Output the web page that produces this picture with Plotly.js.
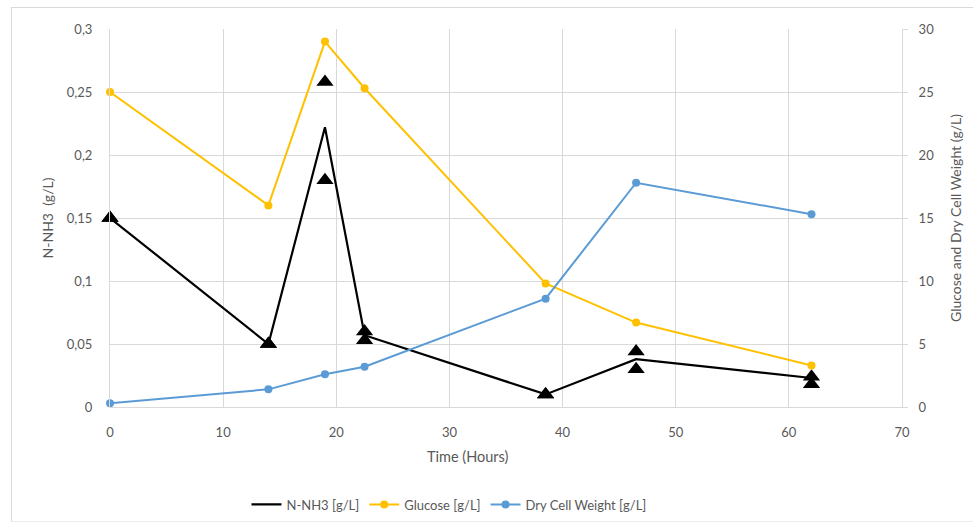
<!DOCTYPE html>
<html>
<head>
<meta charset="utf-8">
<script src="https://cdn.plot.ly/plotly-3.0.1.min.js"></script>
<style>
  html, body { margin: 0; padding: 0; background: #ffffff; }
  #wrap { position: relative; width: 973px; height: 532px; }
  #chart { width: 973px; height: 532px; }
  #frame { position: absolute; left: 11px; top: 7px; width: 962px; height: 513px;
           border-left: 1px solid #d9d9d9; border-top: 1px solid #d9d9d9;
           border-bottom: 1px solid #ececec; pointer-events: none; }
</style>
</head>
<body>
<div id="wrap">
  <div id="chart"></div>
  <div id="frame"></div>
</div>
<script>
// Sampling times (hours)
const timeHours = [0, 14, 19, 22.5, 38.5, 46.5, 62];

// Ammonium nitrogen (g/L): mean line and the two replicate measurements
const nh3Mean = [0.15, 0.05, 0.222, 0.057, 0.01, 0.038, 0.023];
const nh3RepA = [0.15, 0.05, 0.258, 0.06, 0.01, 0.044, 0.024];
const nh3RepB = [0.15, 0.05, 0.18, 0.053, 0.01, 0.03, 0.018];

// Glucose and dry cell weight (g/L), right axis
const glucose = [25, 16, 29, 25.3, 9.8, 6.7, 3.3];
const dryCellWeight = [0.3, 1.4, 2.6, 3.2, 8.6, 17.8, 15.3];

const leftTicks = [0, 0.05, 0.1, 0.15, 0.2, 0.25, 0.3];
const rightTicks = [0, 5, 10, 15, 20, 25, 30];
const timeTicks = [0, 10, 20, 30, 40, 50, 60, 70];

const grey = '#595959';
const gridCol = '#d9d9d9';
const fontFam = 'Lato, "Open Sans", sans-serif';

const traces = [
  {
    x: timeHours, y: nh3Mean, name: 'N-NH3 [g/L]', type: 'scatter', mode: 'lines',
    line: { color: '#000000', width: 2.2 }, yaxis: 'y', cliponaxis: false
  },
  {
    x: timeHours, y: glucose, name: 'Glucose [g/L]', type: 'scatter', mode: 'lines+markers',
    line: { color: '#FFC000', width: 2 }, marker: { color: '#FFC000', size: 8 },
    yaxis: 'y2', cliponaxis: false
  },
  {
    x: timeHours, y: dryCellWeight, name: 'Dry Cell Weight [g/L]', type: 'scatter', mode: 'lines+markers',
    line: { color: '#5B9BD5', width: 2 }, marker: { color: '#5B9BD5', size: 8 },
    yaxis: 'y2', cliponaxis: false
  },
  {
    x: timeHours, y: nh3RepA, name: 'N-NH3 replicate A', type: 'scatter', mode: 'markers',
    marker: { symbol: 'triangle-up', color: '#000000', size: 15 },
    yaxis: 'y', showlegend: false, cliponaxis: false
  },
  {
    x: timeHours, y: nh3RepB, name: 'N-NH3 replicate B', type: 'scatter', mode: 'markers',
    marker: { symbol: 'triangle-up', color: '#000000', size: 15 },
    yaxis: 'y', showlegend: false, cliponaxis: false
  }
];

const layout = {
  width: 973, height: 532,
  margin: { l: 110, r: 71, t: 29, b: 123, pad: 0 },
  paper_bgcolor: '#ffffff', plot_bgcolor: '#ffffff',
  separators: ', ',
  font: { family: fontFam, color: grey, size: 13 },
  showlegend: true,
  legend: {
    orientation: 'h', x: 0.428, xanchor: 'center', y: -0.258, yanchor: 'middle',
    font: { family: fontFam, size: 13, color: grey }, traceorder: 'normal',
    itemwidth: 30
  },
  xaxis: {
    range: [0, 70], tickvals: timeTicks, ticktext: timeTicks.map(String),
    showgrid: true, gridcolor: gridCol, gridwidth: 1,
    showline: true, linecolor: gridCol, linewidth: 1, zeroline: false,
    ticks: '', ticklabelstandoff: 13, tickfont: { size: 13, color: grey }, fixedrange: true
  },
  yaxis: {
    range: [0, 0.3], tickvals: leftTicks,
    showgrid: true, gridcolor: gridCol, gridwidth: 1,
    showline: true, linecolor: gridCol, linewidth: 1, zeroline: false,
    ticks: '', ticklabelstandoff: 14, tickfont: { size: 13, color: grey },
    title: { text: 'N-NH3  (g/L)', font: { size: 14, color: grey }, standoff: 9 }
  },
  yaxis2: {
    range: [0, 30], tickvals: rightTicks, overlaying: 'y', side: 'right',
    showgrid: false, showline: true, linecolor: gridCol, linewidth: 1, zeroline: false,
    ticks: 'outside', ticklen: 5, tickcolor: gridCol, ticklabelstandoff: 8,
    tickfont: { size: 13, color: grey },
    title: { text: 'Glucose and Dry Cell Weight (g/L)', font: { size: 14, color: grey }, standoff: 18 }
  },
  annotations: [
    {
      text: 'Time (Hours)', xref: 'paper', yref: 'paper', x: 0.452, y: -0.13,
      xanchor: 'center', yanchor: 'middle', showarrow: false,
      font: { family: fontFam, size: 14.5, color: grey }
    }
  ]
};

Plotly.newPlot('chart', traces, layout, { displayModeBar: false, staticPlot: true });
</script>
</body>
</html>
